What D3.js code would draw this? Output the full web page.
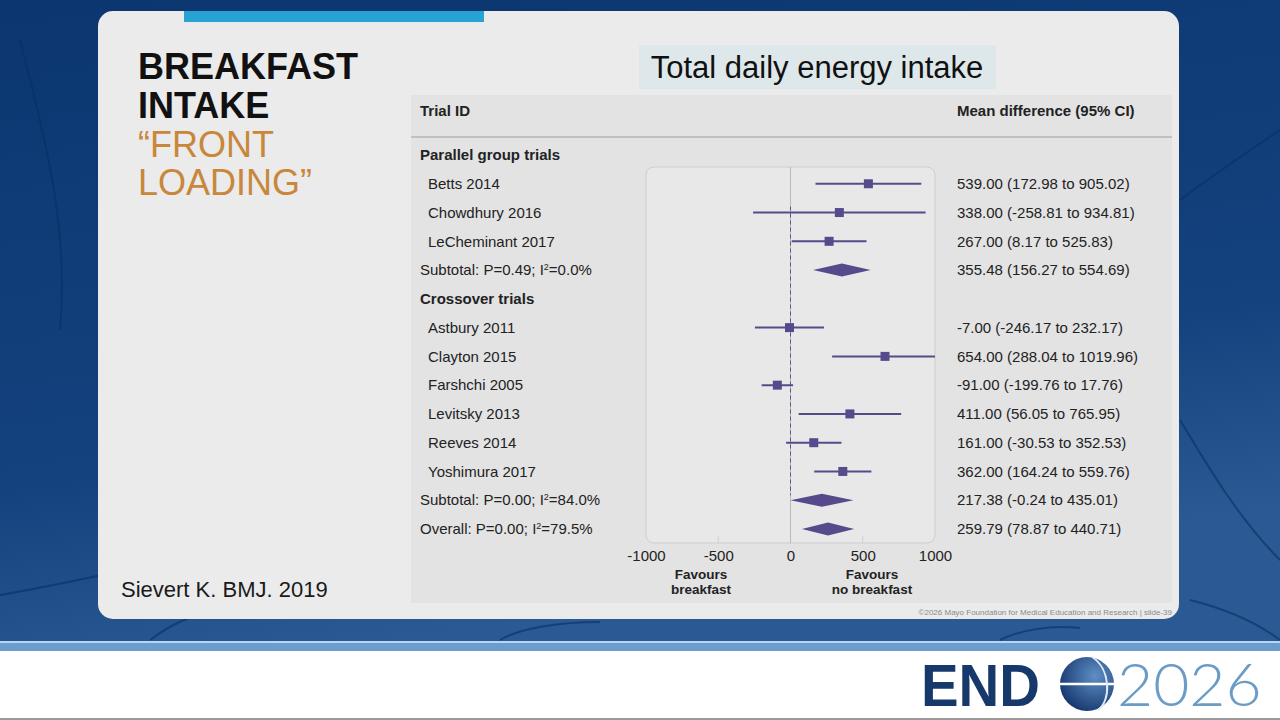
<!DOCTYPE html>
<html>
<head>
<meta charset="utf-8">
<script src="https://cdn.jsdelivr.net/npm/d3@7"></script>
<style>
  html, body { margin: 0; padding: 0; background: #fff; }
  svg { display: block; }
</style>
</head>
<body>
<svg id="slide" width="1280" height="720"></svg>
<script>
// Parallel group trials
const parallelTrials = ["Betts 2014", "Chowdhury 2016", "LeCheminant 2017"];
const parallelMean = [539.00, 338.00, 267.00];
const parallelLow = [172.98, -258.81, 8.17];
const parallelHigh = [905.02, 934.81, 525.83];

// Crossover trials
const crossoverTrials = ["Astbury 2011", "Clayton 2015", "Farshchi 2005", "Levitsky 2013", "Reeves 2014", "Yoshimura 2017"];
const crossoverMean = [-7.00, 654.00, -91.00, 411.00, 161.00, 362.00];
const crossoverLow = [-246.17, 288.04, -199.76, 56.05, -30.53, 164.24];
const crossoverHigh = [232.17, 1019.96, 17.76, 765.95, 352.53, 559.76];

// Pooled estimates: parallel subtotal, crossover subtotal, overall
const pooledLabels = ["Subtotal: P=0.49; I²=0.0%", "Subtotal: P=0.00; I²=84.0%", "Overall: P=0.00; I²=79.5%"];
const pooledMean = [355.48, 217.38, 259.79];
const pooledLow = [156.27, -0.24, 78.87];
const pooledHigh = [554.69, 435.01, 440.71];

const groupTitles = ["Parallel group trials", "Crossover trials"];
const xTicks = [-1000, -500, 0, 500, 1000];

const purple = "#574a8c";
// keep plain hyphen for negatives, like the source figure
const fmt = v => v.toFixed(2);

// Assemble the table rows in display order
function studyRows(names, m, lo, hi) {
  return names.map((n, i) => ({ kind: "study", label: n, mean: m[i], low: lo[i], high: hi[i] }));
}
function pooledRow(i) {
  return { kind: "pooled", label: pooledLabels[i], mean: pooledMean[i], low: pooledLow[i], high: pooledHigh[i] };
}
let rows = [].concat(
  [{ kind: "group", label: groupTitles[0] }],
  studyRows(parallelTrials, parallelMean, parallelLow, parallelHigh),
  [pooledRow(0), { kind: "group", label: groupTitles[1] }],
  studyRows(crossoverTrials, crossoverMean, crossoverLow, crossoverHigh),
  [pooledRow(1), pooledRow(2)]
);

let svg = d3.select("#slide");
let defs = svg.append("defs");

// ---- slide background ----
let bg = defs.append("linearGradient").attr("id", "bgGrad")
  .attr("x1", 0).attr("y1", 0).attr("x2", 0.3).attr("y2", 1);
bg.append("stop").attr("offset", "0%").attr("stop-color", "#0b3670");
bg.append("stop").attr("offset", "70%").attr("stop-color", "#14427e");
bg.append("stop").attr("offset", "100%").attr("stop-color", "#2a5993");
svg.append("rect").attr("width", 1280).attr("height", 642).attr("fill", "url(#bgGrad)");

// faint decorative veins in the background
let veins = [
  "M0,595 C60,585 120,570 180,560", "M20,40 C40,120 70,220 60,330",
  "M1180,420 C1210,470 1240,520 1280,560", "M1190,600 C1230,610 1260,625 1280,640",
  "M150,640 C170,625 190,615 220,610", "M500,640 C520,628 560,622 600,622",
  "M1000,640 C1020,630 1050,625 1080,628", "M1180,200 C1220,170 1250,150 1280,130"
];
svg.append("g").selectAll("path").data(veins).join("path")
  .attr("d", d => d).attr("fill", "none")
  .attr("stroke", "#0a2f60").attr("stroke-width", 2).attr("opacity", 0.6);

// bottom band + white footer
svg.append("rect").attr("x", 0).attr("y", 641).attr("width", 1280).attr("height", 10).attr("fill", "#6c9dcf");
svg.append("rect").attr("x", 0).attr("y", 641).attr("width", 1280).attr("height", 2).attr("fill", "#b9d6ee");
svg.append("rect").attr("x", 0).attr("y", 651).attr("width", 1280).attr("height", 69).attr("fill", "#ffffff");
svg.append("rect").attr("x", 0).attr("y", 718).attr("width", 1280).attr("height", 2).attr("fill", "#9a9a9a");

// ---- ENDO 2026 logo ----
svg.append("text").attr("transform", "translate(921,706) scale(0.94,1)")
  .attr("font-family", "Liberation Sans, Arial, sans-serif").attr("font-weight", 700)
  .attr("font-size", 60).attr("fill", "#17386b").text("END");
let globe = defs.append("radialGradient").attr("id", "globeGrad")
  .attr("cx", "65%").attr("cy", "35%").attr("r", "75%");
globe.append("stop").attr("offset", "0%").attr("stop-color", "#5f8fc6");
globe.append("stop").attr("offset", "100%").attr("stop-color", "#12336a");
svg.append("circle").attr("cx", 1087).attr("cy", 684).attr("r", 27).attr("fill", "url(#globeGrad)");
svg.append("line").attr("x1", 1060).attr("x2", 1114).attr("y1", 684).attr("y2", 684)
  .attr("stroke", "#ffffff").attr("stroke-width", 2.5);
svg.append("path").attr("d", "M1092,657 C1110,668 1112,700 1098,710")
  .attr("fill", "none").attr("stroke", "#dfe9f5").attr("stroke-width", 2);
svg.append("text").attr("transform", "translate(1117,706) scale(1.04,1)")
  .attr("font-family", "Lato, sans-serif").attr("font-weight", 300)
  .attr("font-size", 60).attr("fill", "#6b9cc6").text("2026");

// ---- slide card ----
svg.append("rect").attr("x", 98).attr("y", 11).attr("width", 1081).attr("height", 608)
  .attr("rx", 15).attr("fill", "#ebebeb");
svg.append("rect").attr("x", 184).attr("y", 11).attr("width", 300).attr("height", 11).attr("fill", "#27a3d3");

// slide title
let titleFont = "Liberation Sans, Arial, sans-serif";
svg.append("text").attr("x", 138).attr("y", 79).attr("font-family", titleFont)
  .attr("font-weight", 700).attr("font-size", 36).attr("fill", "#111").text("BREAKFAST");
svg.append("text").attr("x", 138).attr("y", 118).attr("font-family", titleFont)
  .attr("font-weight", 700).attr("font-size", 36).attr("fill", "#111").text("INTAKE");
svg.append("text").attr("x", 138).attr("y", 157).attr("font-family", titleFont)
  .attr("font-size", 36).attr("fill", "#c8873a").text("\u201CFRONT");
svg.append("text").attr("x", 138).attr("y", 195).attr("font-family", titleFont)
  .attr("font-size", 36).attr("fill", "#c8873a").text("LOADING\u201D");

svg.append("text").attr("x", 121).attr("y", 597).attr("font-family", titleFont)
  .attr("font-size", 22).attr("fill", "#1a1a1a").text("Sievert K. BMJ. 2019");

// chart heading box
svg.append("rect").attr("x", 639).attr("y", 45).attr("width", 357).attr("height", 44).attr("fill", "#dee8ea");
svg.append("text").attr("x", 817).attr("y", 78).attr("text-anchor", "middle")
  .attr("font-family", titleFont).attr("font-size", 31).attr("fill", "#111")
  .text("Total daily energy intake");

svg.append("text").attr("x", 1172).attr("y", 615).attr("text-anchor", "end")
  .attr("font-family", titleFont).attr("font-size", 8).attr("fill", "#8a8a8a")
  .text("\u00A92026 Mayo Foundation for Medical Education and Research  |  slide-39");

// ---- forest plot panel ----
svg.append("rect").attr("x", 411).attr("y", 95).attr("width", 761).attr("height", 508).attr("fill", "#e3e3e3");
svg.append("line").attr("x1", 411).attr("x2", 1172).attr("y1", 137).attr("y2", 137)
  .attr("stroke", "#b5b5b5").attr("stroke-width", 1.5);

let tableFont = "Liberation Sans, Arial, sans-serif";
let fs = 15;
svg.append("text").attr("x", 420).attr("y", 116).attr("font-family", tableFont)
  .attr("font-weight", 700).attr("font-size", fs).attr("fill", "#222").text("Trial ID");
svg.append("text").attr("x", 957).attr("y", 116).attr("font-family", tableFont)
  .attr("font-weight", 700).attr("font-size", fs).attr("fill", "#222").text("Mean difference (95% CI)");

let x = d3.scaleLinear().domain([-1000, 1000]).range([646, 935]).clamp(true);
let y = d3.scalePoint().domain(d3.range(rows.length)).range([155, 529]);

// plot frame
svg.append("rect").attr("x", x(-1000)).attr("y", 167).attr("width", x(1000) - x(-1000)).attr("height", 376)
  .attr("rx", 8).attr("fill", "#e8e8e8").attr("stroke", "#cdcdcd").attr("stroke-width", 1);

// inner tick marks along frame bottom
svg.append("g").selectAll("line").data(xTicks.slice(1, -1)).join("line")
  .attr("x1", d => x(d)).attr("x2", d => x(d)).attr("y1", 536).attr("y2", 543)
  .attr("stroke", "#cfcfcf");

// null line and dashed reference
svg.append("line").attr("x1", x(0)).attr("x2", x(0)).attr("y1", 167).attr("y2", 543)
  .attr("stroke", "#b9b9b9").attr("stroke-width", 1);
svg.append("line").attr("x1", x(0)).attr("x2", x(0)).attr("y1", y(2) - 6).attr("y2", y(12) - 5)
  .attr("stroke", "#5e567e").attr("stroke-width", 1).attr("stroke-dasharray", "4,3");

// row labels
svg.append("g").selectAll("text").data(rows).join("text")
  .attr("x", d => d.kind === "study" ? 428 : 420)
  .attr("y", (d, i) => y(i)).attr("dy", "0.35em")
  .attr("font-family", tableFont).attr("font-size", fs)
  .attr("font-weight", d => d.kind === "group" ? 700 : 400)
  .attr("fill", "#222")
  .each(function(d) {
    let t = d3.select(this);
    let m = d.label.match(/^(.*I)²(.*)$/);
    if (m) {
      t.append("tspan").text(m[1]);
      t.append("tspan").attr("dy", -5).attr("font-size", 9).text("2");
      t.append("tspan").attr("dy", 5).text(m[2]);
    } else {
      t.text(d.label);
    }
  });

let marks = rows.map((d, i) => Object.assign({ i: i }, d)).filter(d => d.kind !== "group");

// estimate + CI text
svg.append("g").selectAll("text").data(marks).join("text")
  .attr("x", 957).attr("y", d => y(d.i)).attr("dy", "0.35em")
  .attr("font-family", tableFont).attr("font-size", fs).attr("fill", "#222")
  .text(d => fmt(d.mean) + " (" + fmt(d.low) + " to " + fmt(d.high) + ")");

// study CIs and squares
let studies = marks.filter(d => d.kind === "study");
svg.append("g").selectAll("line").data(studies).join("line")
  .attr("x1", d => x(d.low)).attr("x2", d => x(d.high))
  .attr("y1", d => y(d.i)).attr("y2", d => y(d.i))
  .attr("stroke", purple).attr("stroke-width", 2);
svg.append("g").selectAll("rect").data(studies).join("rect")
  .attr("x", d => x(d.mean) - 4.5).attr("y", d => y(d.i) - 4.5)
  .attr("width", 9).attr("height", 9).attr("fill", purple);

// pooled diamonds
svg.append("g").selectAll("path").data(marks.filter(d => d.kind === "pooled")).join("path")
  .attr("d", d => {
    let cy = y(d.i);
    return "M" + x(d.low) + "," + cy + "L" + x(d.mean) + "," + (cy - 6.5) +
      "L" + x(d.high) + "," + cy + "L" + x(d.mean) + "," + (cy + 6.5) + "Z";
  })
  .attr("fill", purple);

// x axis
let axis = svg.append("g").attr("transform", "translate(0,548)")
  .call(d3.axisBottom(x).tickValues(xTicks).tickSize(0).tickFormat(d => String(d)));
axis.select(".domain").remove();
axis.selectAll("text").attr("font-family", tableFont).attr("font-size", fs)
  .attr("fill", "#222").attr("dy", "0.71em").attr("y", 2);

// favours labels
let favours = [
  { cx: 701, lines: ["Favours", "breakfast"] },
  { cx: 872, lines: ["Favours", "no breakfast"] }
];
favours.forEach(f => {
  f.lines.forEach((s, j) => {
    svg.append("text").attr("x", f.cx).attr("y", 579 + j * 14.5).attr("text-anchor", "middle")
      .attr("font-family", tableFont).attr("font-weight", 700).attr("font-size", 13.5)
      .attr("fill", "#222").text(s);
  });
});
</script>
</body>
</html>
